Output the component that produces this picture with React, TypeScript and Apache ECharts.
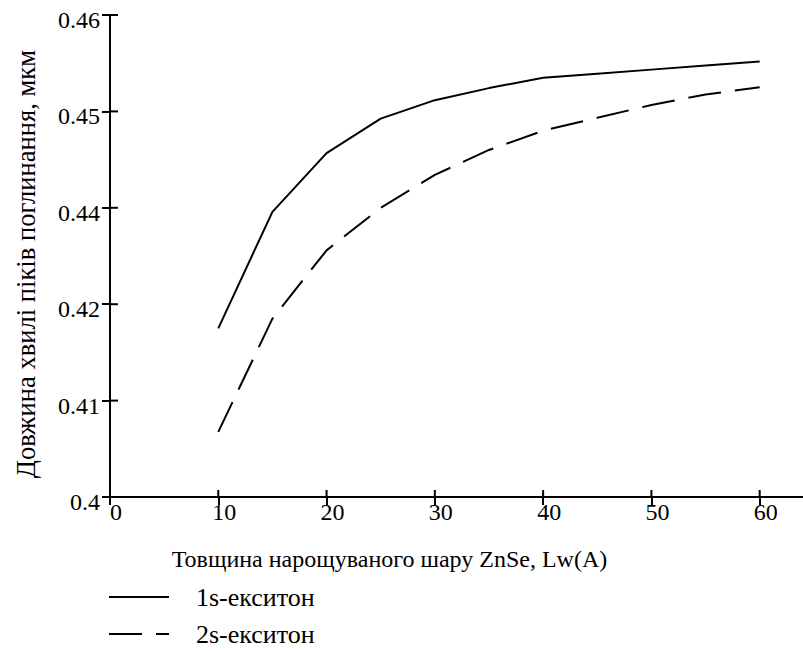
import React, { useEffect, useRef } from "react";
import * as echarts from "echarts";

const thickness = [10, 15, 20, 25, 30, 35, 40, 45, 50, 55, 60];
const exciton1s = [0.421, 0.4355, 0.4428, 0.4471, 0.4494, 0.4509, 0.4522, 0.4527, 0.4532, 0.4537, 0.4542];
const exciton2s = [0.4081, 0.4222, 0.4307, 0.436, 0.4401, 0.4432, 0.4456, 0.4472, 0.4488, 0.4501, 0.451];
const xTickValues = [0, 10, 20, 30, 40, 50, 60];
const yTickValues = [0.4, 0.412, 0.424, 0.436, 0.448, 0.46];
const seriesNames = ["1s-екситон", "2s-екситон"];
const xAxisTitle = "Товщина нарощуваного шару ZnSe, Lw(A)";
const yAxisTitle = "Довжина хвилі піків поглинання, мкм";

export default function App() {
  const ref = useRef<HTMLDivElement>(null);
  useEffect(() => {
    document.body.style.margin = "0";
    const chart = echarts.init(ref.current!, null, { renderer: "svg" });
    const font = "Times New Roman, Liberation Serif, serif";
    const fmtY = (v: number) => String(parseFloat(Number(v).toFixed(2)));
    const axisLineStyle = { color: "#000", width: 2 };
    chart.setOption({
      animation: false,
      backgroundColor: "#fff",
      textStyle: { fontFamily: font, color: "#000" },
      grid: { left: 110, top: 15, right: 0, height: 482 },
      xAxis: {
        type: "value",
        min: 0,
        max: 64,
        splitLine: { show: false },
        name: xAxisTitle,
        nameLocation: "middle",
        nameGap: 50,
        nameTextStyle: { fontSize: 24, color: "#000", fontFamily: font, padding: [0, 134, 0, 0] },
        axisLine: { show: true, onZero: false, lineStyle: axisLineStyle },
        axisTick: { show: true, inside: false, length: 8, lineStyle: axisLineStyle, customValues: xTickValues },
        axisLabel: { fontSize: 24, color: "#000", fontFamily: font, margin: 3, customValues: xTickValues, padding: [0, 0, 0, 12] },
      },
      yAxis: {
        type: "value",
        min: 0.4,
        max: 0.46,
        splitLine: { show: false },
        name: yAxisTitle,
        nameLocation: "middle",
        nameGap: 71,
        nameTextStyle: { fontSize: 26.6, color: "#000", fontFamily: font, padding: [0, 16, 0, 0] },
        axisLine: { show: true, onZero: false, lineStyle: axisLineStyle },
        axisTick: { show: true, inside: false, length: 8, lineStyle: axisLineStyle, customValues: yTickValues },
        axisLabel: {
          fontSize: 24,
          color: "#000",
          fontFamily: font,
          margin: 10,
          customValues: yTickValues,
          formatter: fmtY,
          verticalAlign: "top",
          lineHeight: 10,
        },
      },
      legend: {
        orient: "vertical",
        left: 108,
        top: 584,
        padding: 0,
        itemWidth: 60,
        itemHeight: 20,
        itemGap: 11,
        data: seriesNames,
        itemStyle: { color: "rgba(0,0,0,0)", borderWidth: 0, opacity: 0 },
        textStyle: { fontSize: 26, fontFamily: font, color: "#000", padding: [0, 0, 0, 22] },
      },
      series: [
        {
          name: seriesNames[0],
          type: "line",
          symbol: "none",
          data: thickness.map((x, i) => [x, exciton1s[i]]),
          lineStyle: { color: "#000", width: 2, type: "solid" },
          itemStyle: { color: "#000" },
        },
        {
          name: seriesNames[1],
          type: "line",
          symbol: "none",
          data: thickness.map((x, i) => [x, exciton2s[i]]),
          lineStyle: { color: "#000", width: 2, type: [33, 14] },
          itemStyle: { color: "#000" },
        },
      ],
    });
    // inner half of the crossing tick marks, placed through the chart's own scales
    const els: any[] = [];
    xTickValues.forEach((v) => {
      const p = chart.convertToPixel({ gridIndex: 0 }, [v, yTickValues[0]]) as number[];
      els.push({ type: "line", silent: true, shape: { x1: p[0], y1: p[1], x2: p[0], y2: p[1] - 7 }, style: { stroke: "#000", lineWidth: 2 } });
    });
    yTickValues.forEach((v) => {
      const p = chart.convertToPixel({ gridIndex: 0 }, [xTickValues[0], v]) as number[];
      els.push({ type: "line", silent: true, shape: { x1: p[0], y1: p[1], x2: p[0] + 8, y2: p[1] }, style: { stroke: "#000", lineWidth: 2 } });
    });
    chart.setOption({ graphic: els });
    return () => chart.dispose();
  }, []);
  return <div ref={ref} style={{ width: 803, height: 651 }} />;
}
